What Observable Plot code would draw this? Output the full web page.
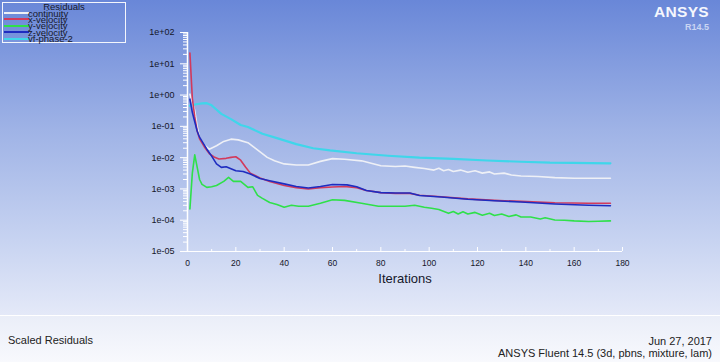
<!DOCTYPE html>
<html><head><meta charset="utf-8">
<script src="https://cdn.jsdelivr.net/npm/d3@7"></script>
<script src="https://cdn.jsdelivr.net/npm/@observablehq/plot@0.6"></script>
<style>
html,body{margin:0;padding:0;background:#fff;}
body{width:720px;height:362px;overflow:hidden;font-family:"Liberation Sans",Arial,sans-serif;}
#wrap{position:relative;width:720px;height:362px;background:linear-gradient(to bottom,#6987d8 0px,#9fb3e6 130px,#c7d3f1 240px,#e4e9f8 315px);}
#chart{position:absolute;left:0;top:0;}
#footer{position:absolute;left:0;top:315px;width:720px;height:47px;border-top:1px solid #fff;background:linear-gradient(#eaeef8,#f8f9fd);box-sizing:border-box;}
.ft{position:absolute;font-size:11px;line-height:12px;color:#222;white-space:nowrap;}
#legend{position:absolute;left:2px;top:2px;width:122px;height:39px;border:1px solid #f4f6fc;}
.lg{position:absolute;font-size:9.5px;line-height:10px;color:#16182a;white-space:nowrap;}
.ll{position:absolute;height:2px;width:25px;left:1px;}
#logo{position:absolute;right:11px;top:3px;font-size:15.5px;font-weight:bold;color:#f5f7fd;letter-spacing:0.3px;}
#rel{position:absolute;right:11px;top:22px;font-size:9px;font-weight:bold;color:#c9d5f3;}
</style>
</head><body>
<div id="wrap">
  <div id="chart"></div>
  <div id="legend"></div>
  <div id="logo">ANSYS</div>
  <div id="rel">R14.5</div>
  <div id="footer">
    <div class="ft" style="left:8px;top:18px;">Scaled Residuals</div>
    <div class="ft" style="right:8px;top:19px;text-align:right;">Jun 27, 2017</div>
    <div class="ft" style="right:8px;top:31px;text-align:right;">ANSYS Fluent 14.5 (3d, pbns, mixture, lam)</div>
  </div>
</div>
<script>
// ---- data: [iteration, scaled residual] ----
const continuity = [[1,1.07],[3,0.32],[4,0.1],[5,0.044],[7,0.025],[9,0.0186],[12,0.024],[15,0.033],[18,0.039],[21,0.037],[25,0.03],[28,0.02],[33,0.0102],[36,0.0079],[40,0.0063],[45,0.0058],[50,0.0058],[55,0.0076],[60,0.0093],[65,0.0089],[72,0.0079],[76,0.0066],[80,0.0055],[86,0.0052],[90,0.0054],[94,0.0049],[98,0.0045],[102,0.004],[104,0.0046],[106,0.0038],[108,0.0042],[110,0.0036],[113,0.004],[116,0.0034],[119,0.0038],[122,0.0032],[125,0.0035],[127,0.003],[131,0.0032],[134,0.0028],[138,0.0026],[145,0.0025],[152,0.0023],[160,0.0022],[166,0.0022],[175,0.0022]];
const xVelocity = [[1,22],[2,0.79],[3,0.2],[4,0.071],[5,0.04],[7,0.022],[9,0.0135],[11,0.0105],[13,0.0091],[16,0.0095],[18,0.0102],[20,0.0107],[22,0.0083],[24,0.005],[26,0.0032],[30,0.00224],[34,0.00174],[40,0.00129],[45,0.0011],[50,0.001],[55,0.0011],[60,0.00115],[65,0.0012],[70,0.0011],[74,0.00089],[80,0.00076],[86,0.00072],[92,0.00072],[96,0.00063],[105,0.00056],[116,0.00048],[127,0.00043],[138,0.0004],[152,0.00036],[166,0.00035],[175,0.00035]];
const yVelocity = [[1,0.00023],[2,0.0032],[3,0.0123],[4,0.005],[5,0.002],[6,0.0014],[8,0.00112],[10,0.00117],[12,0.00129],[15,0.00174],[17,0.00234],[19,0.00174],[22,0.00174],[25,0.00112],[27,0.00117],[29,0.00062],[31,0.0005],[34,0.00037],[37,0.00032],[40,0.00026],[43,0.0003],[46,0.00028],[50,0.00028],[55,0.00035],[60,0.00045],[65,0.00043],[72,0.00035],[79,0.00028],[85,0.00028],[90,0.00028],[94,0.0003],[98,0.00026],[101,0.00024],[104,0.00022],[108,0.000166],[110,0.00019],[112,0.000158],[114,0.000186],[116,0.000158],[119,0.000178],[122,0.000145],[125,0.000166],[127,0.000141],[130,0.000158],[133,0.000132],[136,0.000148],[138,0.000126],[142,0.000126],[146,0.00011],[148,0.00012],[152,0.000102],[156,0.0001],[160,0.000095],[166,0.000091],[170,0.000093],[175,0.000095]];
const zVelocity = [[1,0.74],[2,0.28],[3,0.14],[4,0.071],[5,0.045],[8,0.0186],[10,0.0112],[12,0.0063],[14,0.0049],[16,0.0051],[18,0.0044],[20,0.0038],[23,0.0036],[26,0.003],[30,0.00214],[34,0.00182],[40,0.00145],[45,0.0012],[50,0.00107],[55,0.0012],[60,0.00138],[66,0.00135],[70,0.00117],[74,0.00089],[80,0.00076],[86,0.00074],[92,0.00074],[96,0.00062],[105,0.00055],[116,0.00047],[127,0.00042],[138,0.00038],[152,0.00033],[166,0.0003],[175,0.00029]];
const vfPhase2 = [[1,0.45],[3,0.5],[6,0.54],[8,0.55],[10,0.47],[11,0.4],[14,0.25],[18,0.17],[22,0.11],[25,0.095],[31,0.058],[37,0.042],[45,0.027],[52,0.02],[59,0.017],[70,0.0138],[83,0.0115],[96,0.01],[110,0.0091],[124,0.0081],[138,0.0074],[150,0.0069],[159,0.0068],[175,0.0066]];

const seriesNames = ["continuity","x-velocity","y-velocity","z-velocity","vf-phase-2"];
const seriesColors = ["#eef0f6","#d23a5c","#2fe04a","#1e2cc0","#3fd6ea"];
const seriesData = [continuity, xVelocity, yVelocity, zVelocity, vfPhase2];

const xTicks = [0,20,40,60,80,100,120,140,160,180];
const xMinorTicks = [10,30,50,70,90,110,130,150,170];
const yTicks = [1e-5,1e-4,1e-3,1e-2,1e-1,1e0,1e1,1e2];
const yTickLabels = ["1e-05","1e-04","1e-03","1e-02","1e-01","1e+00","1e+01","1e+02"];
const yMinorTicks = yTicks.slice(0,-1).flatMap(d => [2,3,4,5,6,7,8,9].map(k => k*d));

const font = "Liberation Sans, Arial, sans-serif";
const W = 720, H = 362, mL = 187, mR = 98, mT = 32, mB = 111;
const plotW = W - mL - mR, plotH = H - mT - mB;
const drawOrder = [4,0,2,1,3];
const lineMarks = drawOrder.map(i => Plot.line(seriesData[i], {
  x: d => d[0], y: d => d[1], stroke: seriesColors[i],
  strokeWidth: i === 4 ? 2.2 : 1.6, curve: "linear"
}));

const chart = Plot.plot({
  width: W, height: H,
  marginLeft: mL, marginRight: mR, marginTop: mT, marginBottom: mB,
  style: {background: "transparent", fontFamily: font, overflow: "visible"},
  x: {domain: [0,180], axis: null},
  y: {type: "log", domain: [1e-5, 1e2], axis: null},
  marks: [
    // x ticks pointing up from the bottom axis line
    Plot.ruleX(xTicks, {x: d => d, stroke: "white", insetTop: plotH - 4, strokeWidth: 1}),
    Plot.ruleX(xMinorTicks, {x: d => d, stroke: "white", insetTop: plotH - 2, strokeWidth: 1}),
    // axis lines
    Plot.ruleY([1e-5], {y: d => d, stroke: "white", insetLeft: -6, strokeWidth: 1.2}),
    Plot.ruleX([0], {x: d => d, stroke: "white", strokeWidth: 1.5}),
    // y ticks pointing left
    Plot.ruleY(yMinorTicks, {y: d => d, stroke: "white", insetLeft: -4, insetRight: plotW, strokeWidth: 1}),
    Plot.ruleY(yTicks, {y: d => d, stroke: "white", insetLeft: -7, insetRight: plotW, strokeWidth: 1}),
    Plot.text(yTicks, {y: d => d, text: (d, i) => yTickLabels[i], frameAnchor: "left", dx: -13,
      textAnchor: "end", fontSize: 9, fill: "#15172a"}),
    Plot.text(xTicks, {x: d => d, text: d => String(d), frameAnchor: "bottom", dy: 14,
      fontSize: 8.5, fill: "#15172a"}),
    Plot.text(["Iterations"], {frameAnchor: "bottom", dy: 31, fontSize: 13, fill: "#15172a"}),
    ...lineMarks
  ]
});
document.getElementById("chart").appendChild(chart);

// legend
const lg = document.getElementById("legend");
const title = document.createElement("div");
title.className = "lg"; title.textContent = "Residuals";
title.style.left = "0px"; title.style.width = "122px"; title.style.textAlign = "center"; title.style.top = "-1px";
lg.appendChild(title);
seriesNames.forEach((name, i) => {
  const ln = document.createElement("div");
  ln.className = "ll"; ln.style.background = seriesColors[i];
  ln.style.top = (9 + i * 6.4) + "px";
  lg.appendChild(ln);
  const t = document.createElement("div");
  t.className = "lg"; t.textContent = name;
  t.style.left = "25px"; t.style.top = (5.5 + i * 6.4) + "px";
  lg.appendChild(t);
});
</script>
</body></html>
